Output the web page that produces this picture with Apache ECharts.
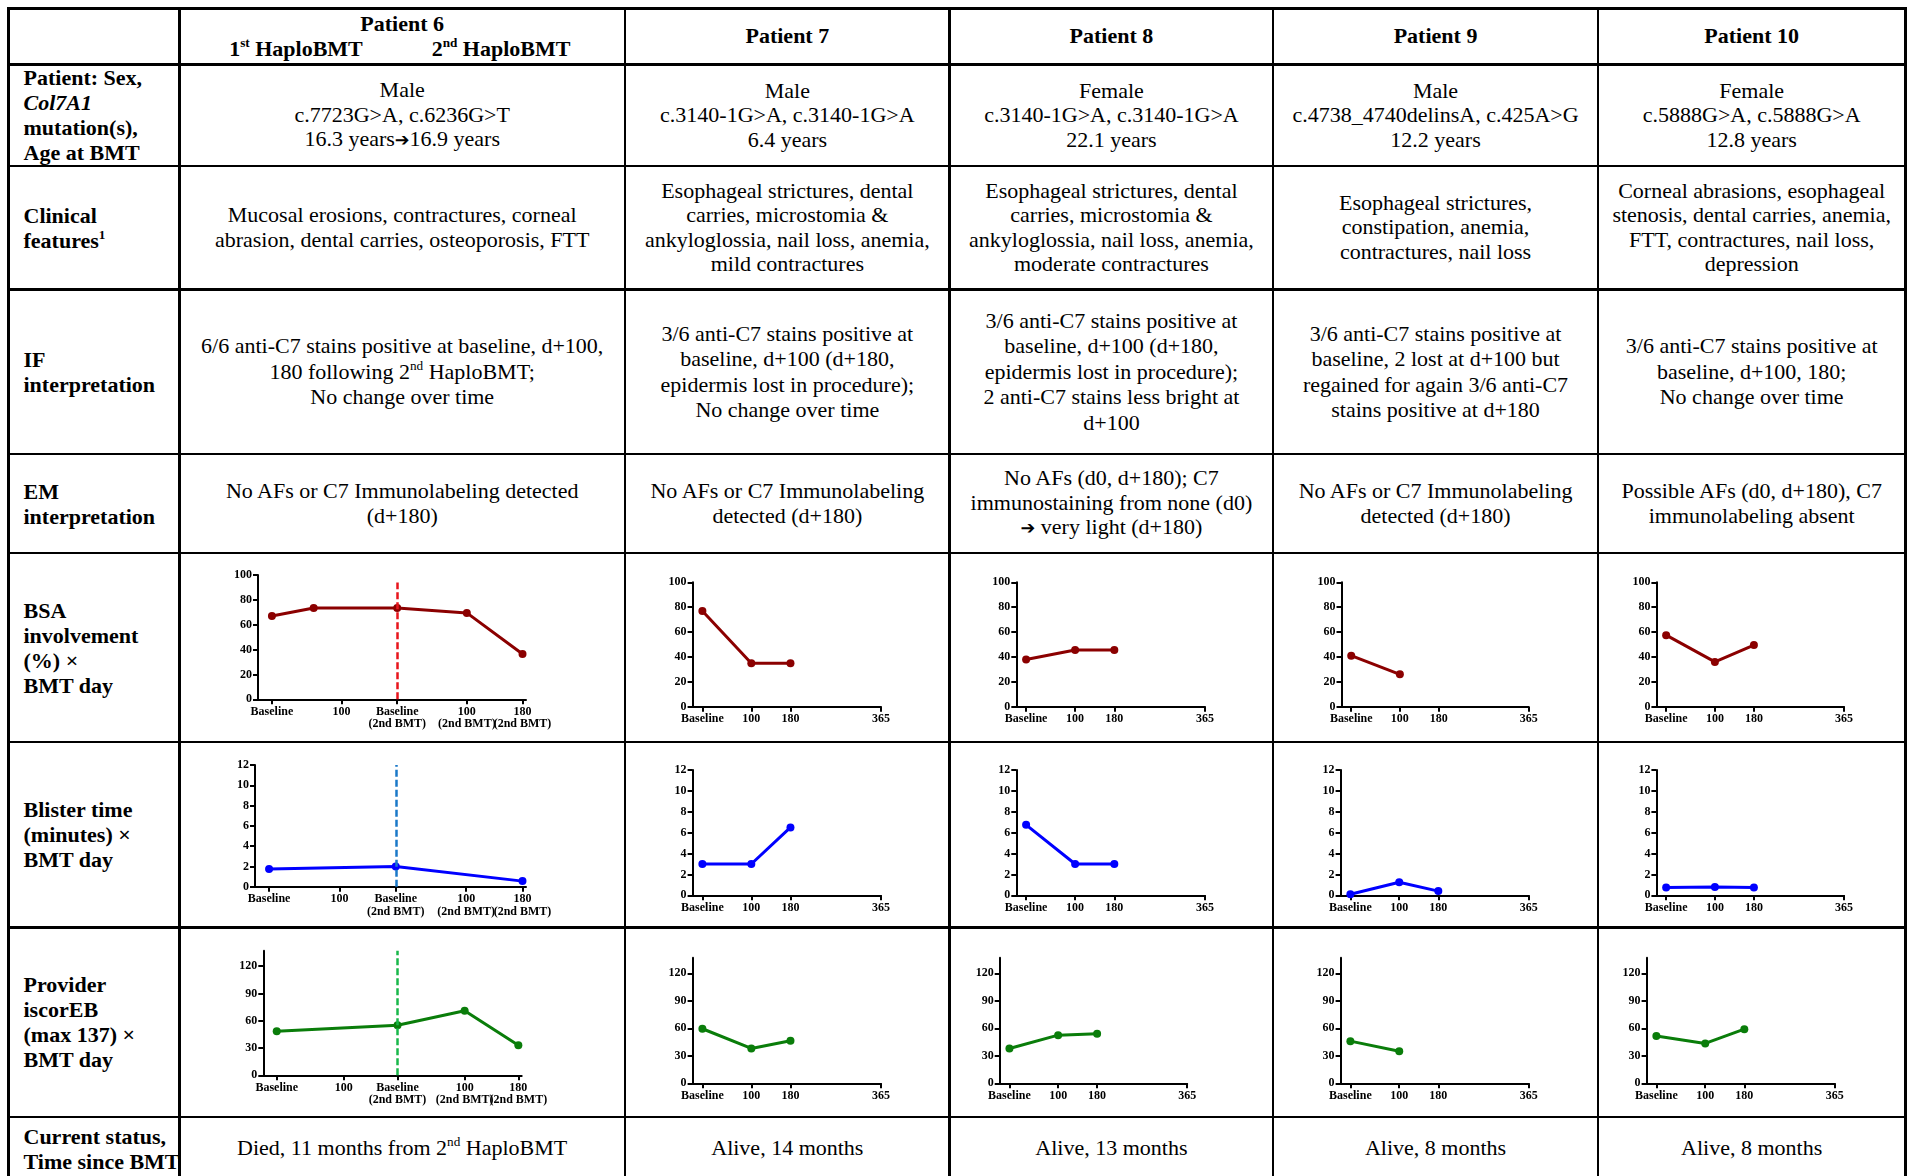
<!DOCTYPE html>
<html><head><meta charset="utf-8">
<script src="https://cdn.jsdelivr.net/npm/echarts@6/dist/echarts.min.js"></script>
<style>
html,body{margin:0;padding:0;background:#fff;overflow:hidden;}
#page{position:relative;width:1914px;height:1176px;overflow:hidden;font-family:"Liberation Serif","Times New Roman",serif;color:#000;background:#fff;}
.hl{position:absolute;background:#000;height:2.5px;}
.vl{position:absolute;background:#000;width:2.5px;}
.cell{position:absolute;display:flex;align-items:center;justify-content:center;text-align:center;font-size:22px;line-height:24.5px;}
.cell > div{white-space:nowrap;}
.lab{justify-content:flex-start;text-align:left;font-weight:bold;line-height:25px;}
.hdr{font-weight:bold;}
.arr{font-family:"DejaVu Sans",sans-serif;font-size:0.8em;font-weight:bold;}
sup{font-size:0.6em;line-height:0;vertical-align:0.65em;}
#chart{position:absolute;left:0;top:0;width:1914px;height:1176px;}
</style></head>
<body><div id="page"><div id="chart"></div></div>
<script>
// ---------------- data ----------------
const patients = ["Patient 6", "Patient 7", "Patient 8", "Patient 9", "Patient 10"];
const rowLabels = [
  "",
  "Patient: Sex,<br><i>Col7A1</i><br>mutation(s),<br>Age at BMT",
  "Clinical<br>features<sup>1</sup>",
  "IF<br>interpretation",
  "EM<br>interpretation",
  "BSA<br>involvement<br>(%) ×<br>BMT day",
  "Blister time<br>(minutes) ×<br>BMT day",
  "Provider<br>iscorEB<br>(max 137) ×<br>BMT day",
  "Current status,<br>Time since BMT"
];
const demographics = [
  "Male<br>c.7723G&gt;A, c.6236G&gt;T<br>16.3 years<span class=\"arr\">➔</span>16.9 years",
  "Male<br>c.3140-1G&gt;A, c.3140-1G&gt;A<br>6.4 years",
  "Female<br>c.3140-1G&gt;A, c.3140-1G&gt;A<br>22.1 years",
  "Male<br>c.4738_4740delinsA, c.425A&gt;G<br>12.2 years",
  "Female<br>c.5888G&gt;A, c.5888G&gt;A<br>12.8 years"
];
const clinical = [
  "Mucosal erosions, contractures, corneal<br>abrasion, dental carries, osteoporosis, FTT",
  "Esophageal strictures, dental<br>carries, microstomia &amp;<br>ankyloglossia, nail loss, anemia,<br>mild contractures",
  "Esophageal strictures, dental<br>carries, microstomia &amp;<br>ankyloglossia, nail loss, anemia,<br>moderate contractures",
  "Esophageal strictures,<br>constipation, anemia,<br>contractures, nail loss",
  "Corneal abrasions, esophageal<br>stenosis, dental carries, anemia,<br>FTT, contractures, nail loss,<br>depression"
];
const ifText = [
  "6/6 anti-C7 stains positive at baseline, d+100,<br>180 following 2<sup>nd</sup> HaploBMT;<br>No change over time",
  "3/6 anti-C7 stains positive at<br>baseline, d+100 (d+180,<br>epidermis lost in procedure);<br>No change over time",
  "3/6 anti-C7 stains positive at<br>baseline, d+100 (d+180,<br>epidermis lost in procedure);<br>2 anti-C7 stains less bright at<br>d+100",
  "3/6 anti-C7 stains positive at<br>baseline, 2 lost at d+100 but<br>regained for again 3/6 anti-C7<br>stains positive at d+180",
  "3/6 anti-C7 stains positive at<br>baseline, d+100, 180;<br>No change over time"
];
const emText = [
  "No AFs or C7 Immunolabeling detected<br>(d+180)",
  "No AFs or C7 Immunolabeling<br>detected (d+180)",
  "No AFs (d0, d+180); C7<br>immunostaining from none (d0)<br><span class=\"arr\">➔</span> very light (d+180)",
  "No AFs or C7 Immunolabeling<br>detected (d+180)",
  "Possible AFs (d0, d+180), C7<br>immunolabeling absent"
];
const statusText = [
  "Died, 11 months from 2<sup>nd</sup> HaploBMT",
  "Alive, 14 months",
  "Alive, 13 months",
  "Alive, 8 months",
  "Alive, 8 months"
];

// Patient 6 (two HaploBMTs), x = days from 1st baseline
const p6BsaDays = [0, 60, 180, 280, 360];
const p6BsaVals = [67, 73.5, 73.5, 69.5, 36.5];
const p6BlisterDays = [0, 180, 360];
const p6BlisterVals = [1.75, 2.0, 0.55];
const p6IscorDays = [0, 180, 280, 360];
const p6IscorVals = [48.5, 55, 71, 33];
const p6TickDays = [0, 100, 180, 280, 360];
const p6TickLabels = ["Baseline", "100", "Baseline\n(2nd BMT)", "100\n(2nd BMT)", "180\n(2nd BMT)"];
const secondBMTDay = 180;

// Patients 7-10
const followDays = [0, 100, 180];
const tickDays = [0, 100, 180, 365];
const tickLabels = ["Baseline", "100", "180", "365"];
const bsaP7 = [77, 35, 35];
const bsaP8 = [38, 45.5, 45.5];
const bsaP9 = [41, 26];
const bsaP10 = [57.5, 36, 49.5];
const blisterP7 = [3, 3, 6.5];
const blisterP8 = [6.75, 3, 3];
const blisterP9 = [0.1, 1.25, 0.4];
const blisterP10 = [0.75, 0.8, 0.75];
const iscorP7 = [59.5, 38, 46.5];
const iscorP8 = [38, 52.5, 54];
const iscorP9 = [46, 35];
const iscorP10 = [51.5, 43.5, 59];

const bsaTicks = [0, 20, 40, 60, 80, 100];
const blisterTicks = [0, 2, 4, 6, 8, 10, 12];
const iscorTicks = [0, 30, 60, 90, 120];
const iscorMax = 137;
const dayMin = -20, dayMax = 365;

// ---------------- table layout ----------------
const colX = [8.5, 179.4, 625, 949.7, 1273.2, 1597.9, 1905.5];
const rowY = [8.5, 64.7, 166, 289.3, 454.1, 553, 742.2, 927.7, 1117, 1180];
const page = document.getElementById('page');
function add(cls, style, html) {
  const d = document.createElement('div');
  d.className = cls;
  Object.assign(d.style, style);
  if (html !== undefined) {
    const inner = document.createElement('div');
    inner.innerHTML = html;
    d.appendChild(inner);
  }
  page.insertBefore(d, document.getElementById('chart'));
  return d;
}
rowY.forEach(y => add('hl', {left: (colX[0] - 1.25) + 'px', top: (y - 1.25) + 'px', width: (colX[6] - colX[0] + 2.5) + 'px'}));
colX.forEach(x => add('vl', {left: (x - 1.25) + 'px', top: (rowY[0] - 1.25) + 'px', height: (rowY[9] - rowY[0]) + 'px'}));

function box(c, r) {
  return {left: colX[c] + 'px', top: rowY[r] + 'px', width: (colX[c + 1] - colX[c]) + 'px', height: (rowY[r + 1] - rowY[r]) + 'px'};
}
rowLabels.forEach((t, r) => {
  if (!t) return;
  const b = box(0, r);
  b.left = (colX[0] + 15) + 'px';
  b.width = (colX[1] - colX[0] - 15) + 'px';
  add('cell lab', b, t);
});
patients.forEach((p, i) => {
  if (i === 0) {
    add('cell hdr', {left: colX[1] + 'px', top: '12px', width: (colX[2] - colX[1]) + 'px', height: '25px'}, p);
    add('cell hdr', {left: '226px', top: '37px', width: '140px', height: '25px'}, '1<sup>st</sup> HaploBMT');
    add('cell hdr', {left: '430px', top: '37px', width: '142px', height: '25px'}, '2<sup>nd</sup> HaploBMT');
  } else {
    add('cell hdr', box(i + 1, 0), p);
  }
});
const textRows = [demographics, clinical, ifText, emText];
textRows.forEach((arr, k) => {
  arr.forEach((t, i) => {
    const b = box(i + 1, k + 1);
    if (k === 2) b.lineHeight = '25.5px';
    add('cell', b, t);
  });
});
statusText.forEach((t, i) => add('cell', box(i + 1, 8), t));

// ---------------- charts ----------------
const font = '"Liberation Serif","Times New Roman",serif';
const BSA_C = '#8b0000', BL_C = '#0000ff', IS_C = '#0a7d0a';
const DASH = {bsa: '#e8141c', blister: '#1a78c8', iscor: '#18b84a'};

const panels = [
  {l: 258, t: 575, w: 268, h: 124.3, days: p6BsaDays, vals: p6BsaVals, color: BSA_C, y: 'bsa', p6: true},
  {l: 692.6, t: 582.3, w: 188.4, h: 124.4, days: followDays, vals: bsaP7, color: BSA_C, y: 'bsa'},
  {l: 1016.3, t: 582.3, w: 188.7, h: 124.4, days: followDays, vals: bsaP8, color: BSA_C, y: 'bsa'},
  {l: 1341.5, t: 582.3, w: 187.2, h: 124.4, days: followDays, vals: bsaP9, color: BSA_C, y: 'bsa'},
  {l: 1656.4, t: 582.3, w: 187.7, h: 124.4, days: followDays, vals: bsaP10, color: BSA_C, y: 'bsa'},
  {l: 255, t: 765, w: 271, h: 121.7, days: p6BlisterDays, vals: p6BlisterVals, color: BL_C, y: 'blister', p6: true},
  {l: 692.6, t: 770, w: 188.4, h: 125.3, days: followDays, vals: blisterP7, color: BL_C, y: 'blister'},
  {l: 1016.3, t: 770, w: 188.7, h: 125.3, days: followDays, vals: blisterP8, color: BL_C, y: 'blister'},
  {l: 1340.6, t: 770, w: 188.1, h: 125.3, days: followDays, vals: blisterP9, color: BL_C, y: 'blister'},
  {l: 1656.4, t: 770, w: 187.7, h: 125.3, days: followDays, vals: blisterP10, color: BL_C, y: 'blister'},
  {l: 263.3, t: 950.7, w: 258.4, h: 124.6, days: p6IscorDays, vals: p6IscorVals, color: IS_C, y: 'iscor', p6: true},
  {l: 692.6, t: 957.7, w: 188.4, h: 125.6, days: followDays, vals: iscorP7, color: IS_C, y: 'iscor'},
  {l: 999.7, t: 957.7, w: 187.5, h: 125.6, days: followDays, vals: iscorP8, color: IS_C, y: 'iscor'},
  {l: 1340.6, t: 957.7, w: 188.1, h: 125.6, days: followDays, vals: iscorP9, color: IS_C, y: 'iscor'},
  {l: 1646.6, t: 957.7, w: 188.1, h: 125.6, days: followDays, vals: iscorP10, color: IS_C, y: 'iscor'}
];
const yCfg = {
  bsa: {min: 0, max: 100, ticks: bsaTicks, dashTop: 94},
  blister: {min: 0, max: 12, ticks: blisterTicks, dashTop: 12},
  iscor: {min: 0, max: iscorMax, ticks: iscorTicks, dashTop: iscorMax}
};
const lab = {fontFamily: font, fontWeight: 'bold', fontSize: 12, color: '#000'};
const axisLine = {show: true, onZero: false, lineStyle: {color: '#000', width: 2}};
const tickStyle = {color: '#000', width: 2};

const option = {animation: false, grid: [], xAxis: [], yAxis: [], series: []};
const extraX = [];
panels.forEach((p, i) => {
  const yc = yCfg[p.y];
  const xt = p.p6 ? p6TickDays : tickDays;
  const xl = p.p6 ? p6TickLabels : tickLabels;
  // for patient 6 the last label is placed on a twin axis so neighbouring labels may touch
  const mainLabelVals = p.p6 ? xt.slice(0, xt.length - 1) : xt;
  option.grid.push({left: p.l, top: p.t, width: p.w, height: p.h, containLabel: false});
  option.xAxis.push({
    type: 'value', gridIndex: i, min: dayMin, max: dayMax, position: 'bottom',
    axisLine: axisLine,
    axisTick: {show: true, length: 5, lineStyle: tickStyle, customValues: xt},
    axisLabel: Object.assign({customValues: mainLabelVals, margin: 6, lineHeight: 12.5, hideOverlap: false,
      formatter: v => xl[xt.indexOf(v)]}, lab),
    splitLine: {show: false}
  });
  if (p.p6) {
    extraX.push({
      type: 'value', gridIndex: i, min: dayMin, max: dayMax, position: 'bottom', offset: 0,
      axisLine: {show: false}, axisTick: {show: false},
      axisLabel: Object.assign({customValues: xt.slice(-1), margin: 6, lineHeight: 12.5, hideOverlap: false,
        formatter: v => xl[xt.indexOf(v)]}, lab),
      splitLine: {show: false}
    });
  }
  option.yAxis.push({
    type: 'value', gridIndex: i, min: yc.min, max: yc.max,
    axisLine: axisLine,
    axisTick: {show: true, length: 5, lineStyle: tickStyle, customValues: yc.ticks},
    axisLabel: Object.assign({customValues: yc.ticks, margin: 6, hideOverlap: false}, lab),
    splitLine: {show: false}
  });
  const s = {
    type: 'line', xAxisIndex: i, yAxisIndex: i,
    data: p.days.slice(0, p.vals.length).map((d, k) => [d, p.vals[k]]),
    symbol: 'circle', symbolSize: 8, showSymbol: true,
    lineStyle: {color: p.color, width: 3},
    itemStyle: {color: p.color},
    z: 3
  };
  if (p.p6) {
    s.markLine = {
      silent: true, symbol: ['none', 'none'], label: {show: false},
      lineStyle: {color: DASH[p.y], width: 2.5, type: [7, 3]},
      data: [[{coord: [secondBMTDay, yc.min]}, {coord: [secondBMTDay, yc.dashTop]}]]
    };
  }
  option.series.push(s);
});
option.xAxis = option.xAxis.concat(extraX);
const chart = echarts.init(document.getElementById('chart'), null, {renderer: 'canvas'});
chart.setOption(option);
</script>
</body></html>
